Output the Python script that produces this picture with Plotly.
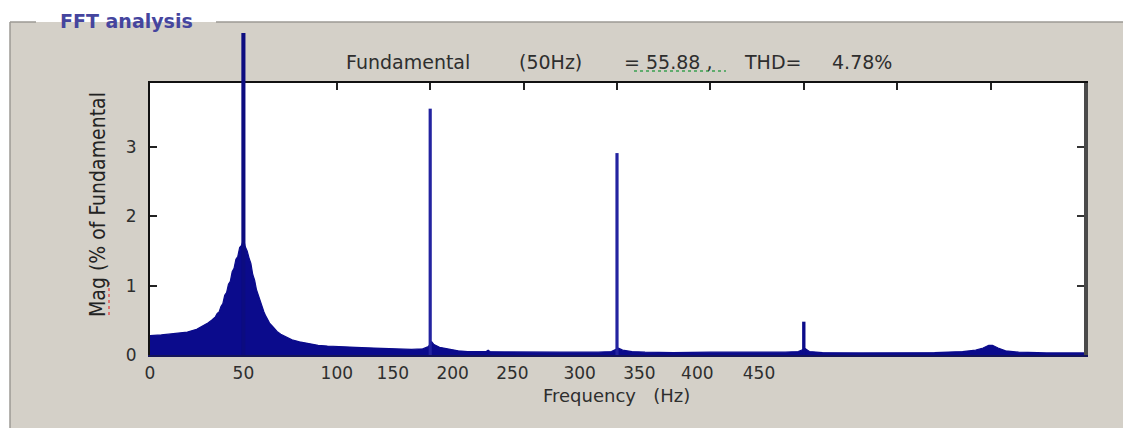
import plotly.graph_objects as go

# ---------------- data ----------------
# continuous spectrum envelope (Hz, % of fundamental)
freq_hz = [0, 3, 6, 10, 15, 20, 25, 28, 31, 33, 35, 36, 37, 38, 39, 40, 41, 42, 43, 44,
           45, 46, 47, 48, 49, 49.5, 50.5, 51, 52, 53, 54, 55, 56, 57, 58, 59, 60, 61, 62,
           63, 64, 66, 68, 70, 73, 76, 80, 85, 90, 95, 100, 110, 120, 130, 140, 146, 149,
           150.8, 152, 155, 160, 165, 170, 180, 181, 182, 190, 200, 220, 240, 247, 249.2,
           250.8, 253, 258, 265, 280, 300, 320, 340, 347, 349.2, 350.8, 353, 360, 380, 400,
           420, 435, 442, 446, 449, 451, 454, 458, 465, 480, 500]
mag_pct = [0.28, 0.29, 0.29, 0.30, 0.31, 0.33, 0.37, 0.41, 0.46, 0.50, 0.55, 0.60, 0.62, 0.70,
           0.74, 0.86, 0.90, 1.02, 1.06, 1.20, 1.25, 1.38, 1.42, 1.55, 1.58, 1.62, 1.62, 1.56,
           1.50, 1.40, 1.32, 1.16, 1.08, 0.94, 0.86, 0.76, 0.70, 0.62, 0.56, 0.50, 0.46, 0.40,
           0.34, 0.30, 0.26, 0.22, 0.19, 0.16, 0.14, 0.13, 0.12, 0.11, 0.10, 0.09, 0.08, 0.09,
           0.12, 0.19, 0.15, 0.11, 0.08, 0.06, 0.05, 0.05, 0.07, 0.05, 0.045, 0.04, 0.04, 0.04,
           0.05, 0.08, 0.10, 0.07, 0.05, 0.04, 0.035, 0.04, 0.035, 0.04, 0.05, 0.08, 0.09, 0.05,
           0.035, 0.03, 0.035, 0.035, 0.05, 0.07, 0.10, 0.14, 0.14, 0.10, 0.06, 0.04, 0.03, 0.03]

# harmonic lines
harm_freq = [50, 150, 250, 350]
harm_mag = [4.64, 3.55, 2.91, 0.48]

# axis ticks
x_tick_vals = [0, 50, 100, 130, 162, 194, 230, 262, 293, 326]
x_tick_text = ["0", "50", "100", "150", "200", "250", "300", "350", "400", "450"]
y_tick_vals = [0, 1, 2, 3]
y_max = 3.92
x_max = 500

title_parts = ["Fundamental", "(50Hz)", "= 55.88 ,", "THD=", "4.78%"]

# ---------------- layout geometry (reference page pixels) ----------------
OFF = 8                      # default body margin of the html page
W, H = 1131 - OFF, 428 - OFF  # figure size
PL, PR = 150, 1084           # plot frame left / right (page px)
PT_FRAME, PB = 83, 355       # frame top / bottom (page px)
PT_TALL = 32                 # top of the tall (unclipped) area for the fundamental

DOM = (PB - PT_FRAME) / (PB - PT_TALL)


def px_x(px):
    return (px - PL) / (PR - PL)


def px_y(py):
    return (PB - py) / (PB - PT_TALL)


GRAY = "#d4d0c8"
NAVY = "#0b0b8c"
TXT = "#2e2e2e"
FONT = "DejaVu Sans"

fig = go.Figure()

fig.add_trace(go.Scatter(
    x=freq_hz, y=mag_pct, mode="lines", fill="tozeroy",
    line=dict(color=NAVY, width=1.2), fillcolor=NAVY,
    hoverinfo="skip", showlegend=False, xaxis="x", yaxis="y",
))

fig.add_trace(go.Bar(
    x=harm_freq, y=harm_mag, width=[2.2, 1.7, 1.7, 1.8],
    marker=dict(color=["#0c0c80", "#2323a0", "#2323a0", "#0c0c8a"], line=dict(width=0)),
    showlegend=False, hoverinfo="skip", xaxis="x", yaxis="y3",
))

# empty trace so that the top / right frame axes are created
fig.add_trace(go.Scatter(
    x=[None], y=[None], mode="lines", showlegend=False, hoverinfo="skip",
    xaxis="x2", yaxis="y2",
))

tickfont = dict(family=FONT, size=17, color=TXT)

fig.update_layout(
    width=W, height=H, autosize=False,
    margin=dict(l=PL - OFF, r=W - (PR - OFF), t=PT_TALL - OFF, b=H - (PB - OFF), pad=0),
    paper_bgcolor="white", plot_bgcolor="rgba(0,0,0,0)",
    xaxis=dict(
        range=[0, x_max], tickmode="array", tickvals=x_tick_vals, ticktext=x_tick_text,
        ticks="", showline=True, linecolor="#15155a", linewidth=2, anchor="y",
        showgrid=False, zeroline=False, tickfont=tickfont, ticklabelstandoff=2,
    ),
    xaxis2=dict(
        overlaying="x", side="top", anchor="y", range=[0, x_max], tickmode="linear",
        tick0=0, dtick=50, ticks="inside", ticklen=7, tickwidth=2, tickcolor="#222",
        showticklabels=False, showline=True, linecolor="#111", linewidth=2,
        showgrid=False, zeroline=False,
    ),
    yaxis=dict(
        domain=[0, DOM], range=[0, y_max], tickmode="array", tickvals=y_tick_vals,
        ticks="inside", ticklen=7, tickwidth=2, tickcolor="#222",
        showline=True, linecolor="#111", linewidth=2, anchor="x",
        showgrid=False, zeroline=False, tickfont=tickfont, ticklabelstandoff=8,
    ),
    yaxis2=dict(
        overlaying="y", side="right", anchor="x", range=[0, y_max], tickmode="array",
        tickvals=y_tick_vals, ticks="inside", ticklen=7, tickwidth=2, tickcolor="#333",
        showticklabels=False, showline=True, linecolor="#4a4a4a", linewidth=4,
        showgrid=False, zeroline=False,
    ),
    yaxis3=dict(
        domain=[0, 1], range=[0, y_max / DOM], anchor="x", visible=False,
        showgrid=False, zeroline=False,
    ),
)

shapes = [
    # gray group-box background
    dict(type="rect", xref="paper", yref="paper", layer="below",
         x0=px_x(10), x1=px_x(1140), y0=px_y(440), y1=px_y(22),
         fillcolor=GRAY, line=dict(width=0)),
    # white plot area
    dict(type="rect", xref="paper", yref="paper", layer="below",
         x0=0, x1=1, y0=0, y1=DOM, fillcolor="white", line=dict(width=0)),
    # etched group-box border
    dict(type="line", xref="paper", yref="paper", x0=px_x(10), x1=px_x(36),
         y0=px_y(22), y1=px_y(22), line=dict(color="#9c9a94", width=1.5)),
    dict(type="line", xref="paper", yref="paper", x0=px_x(216), x1=px_x(1131),
         y0=px_y(22), y1=px_y(22), line=dict(color="#9c9a94", width=1.5)),
    dict(type="line", xref="paper", yref="paper", x0=px_x(10), x1=px_x(10),
         y0=px_y(22), y1=px_y(430), line=dict(color="#9c9a94", width=1.5)),
    dict(type="line", xref="paper", yref="paper", x0=px_x(1129), x1=px_x(1129),
         y0=px_y(22), y1=px_y(430), line=dict(color="#e6e4de", width=1)),
    # spell-check squiggles
    dict(type="line", xref="paper", yref="paper", x0=px_x(634), x1=px_x(726),
         y0=px_y(71), y1=px_y(71), line=dict(color="#3aa050", width=1.5, dash="dot")),
    dict(type="line", xref="paper", yref="paper", x0=px_x(109), x1=px_x(109),
         y0=px_y(282), y1=px_y(318), line=dict(color="#e05050", width=1.5, dash="dot")),
]
fig.update_layout(shapes=shapes)

title_x = [408, 550, 668, 772, 862]
annotations = []
for txt, cx in zip(title_parts, title_x):
    annotations.append(dict(
        text=txt, x=px_x(cx), y=px_y(62), xref="paper", yref="paper",
        xanchor="center", yanchor="middle", showarrow=False,
        font=dict(family=FONT, size=19, color=TXT),
    ))

annotations += [
    dict(text="FFT analysis", x=px_x(126), y=px_y(21), xref="paper", yref="paper",
         xanchor="center", yanchor="middle", showarrow=False,
         font=dict(family=FONT, size=19, color="#45459e", weight="bold")),
    dict(text="Frequency\u00a0\u00a0\u00a0(Hz)", x=px_x(616), y=px_y(395), xref="paper",
         yref="paper", xanchor="center", yanchor="middle", showarrow=False,
         font=dict(family=FONT, size=18, color=TXT)),
    dict(text="Mag (% of Fundamental", x=px_x(98), y=px_y(205), xref="paper", yref="paper",
         xanchor="center", yanchor="middle", showarrow=False, textangle=-90,
         font=dict(family="Liberation Sans Narrow, DejaVu Sans Condensed, Liberation Sans",
                   size=21, color="#222")),
]
fig.update_layout(annotations=annotations)

fig.write_html("out.html")
